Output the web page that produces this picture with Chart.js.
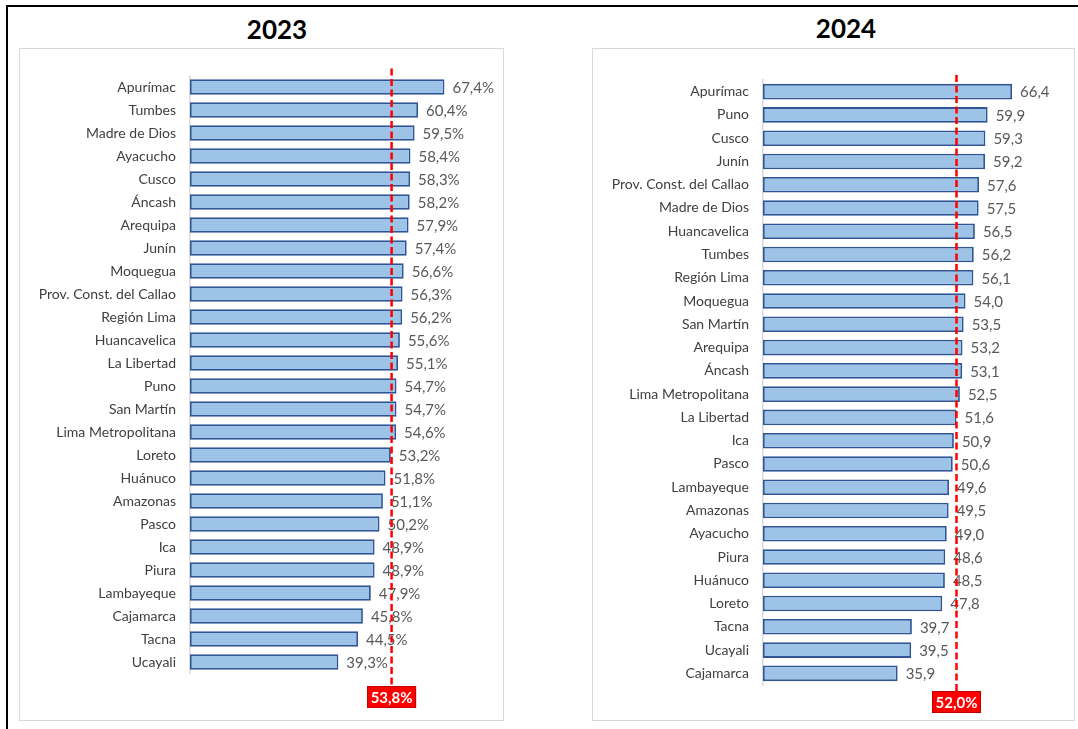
<!DOCTYPE html>
<html><head><meta charset="utf-8">
<script src="https://cdn.jsdelivr.net/npm/chart.js@4"></script>
<style>
html,body{margin:0;padding:0;background:#fff;width:1078px;height:729px;overflow:hidden;font-family:Lato,sans-serif}
#frameTop{position:absolute;left:6px;top:5px;width:1072px;height:2px;background:#000}
#frameLeft{position:absolute;left:6px;top:5px;width:2px;height:724px;background:#000}
.panel{position:absolute;border:1.5px solid #D9D9D9;box-sizing:border-box}
.title{position:absolute;font-weight:bold;font-size:26px;color:#000;transform:translate(-50%,-50%);font-family:Lato,sans-serif}
canvas{position:absolute}
</style></head>
<body>
<div id="frameTop"></div><div id="frameLeft"></div>
<div class="panel" style="left:19px;top:48px;width:485px;height:673px"></div>
<div class="panel" style="left:592px;top:48px;width:483px;height:673px"></div>
<div class="title" style="left:277px;top:29px">2023</div>
<div class="title" style="left:846px;top:28px">2024</div>
<canvas id="c1" width="485" height="673" style="left:19px;top:48px"></canvas>
<canvas id="c2" width="483" height="673" style="left:592px;top:48px"></canvas>
<script>
const regions2023 = ["Apurímac","Tumbes","Madre de Dios","Ayacucho","Cusco","Áncash","Arequipa","Junín","Moquegua","Prov. Const. del Callao","Región Lima","Huancavelica","La Libertad","Puno","San Martín","Lima Metropolitana","Loreto","Huánuco","Amazonas","Pasco","Ica","Piura","Lambayeque","Cajamarca","Tacna","Ucayali"];
const values2023 = [67.4,60.4,59.5,58.4,58.3,58.2,57.9,57.4,56.6,56.3,56.2,55.6,55.1,54.7,54.7,54.6,53.2,51.8,51.1,50.2,48.9,48.9,47.9,45.8,44.5,39.3];
const average2023 = 53.8;

const regions2024 = ["Apurímac","Puno","Cusco","Junín","Prov. Const. del Callao","Madre de Dios","Huancavelica","Tumbes","Región Lima","Moquegua","San Martín","Arequipa","Áncash","Lima Metropolitana","La Libertad","Ica","Pasco","Lambayeque","Amazonas","Ayacucho","Piura","Huánuco","Loreto","Tacna","Ucayali","Cajamarca"];
const values2024 = [66.4,59.9,59.3,59.2,57.6,57.5,56.5,56.2,56.1,54.0,53.5,53.2,53.1,52.5,51.6,50.9,50.6,49.6,49.5,49.0,48.6,48.5,47.8,39.7,39.5,35.9];
const average2024 = 52.0;

const fmt = (v, pct) => v.toFixed(1).replace('.', ',') + (pct ? '%' : '');

const annotPlugin = {
  id: 'annot',
  afterDatasetsDraw(chart, args, o) {
    const ctx = chart.ctx;
    const meta = chart.getDatasetMeta(0);
    const data = chart.data.datasets[0].data;
    ctx.save();
    ctx.font = '15px Lato, sans-serif';
    ctx.fillStyle = '#595959';
    ctx.textAlign = 'left';
    ctx.textBaseline = 'middle';
    meta.data.forEach((bar, i) => {
      ctx.fillText(fmt(data[i], o.pct), bar.x + 8, bar.y + 1);
    });
    const x = chart.scales.x.getPixelForValue(o.ref) + o.shift;
    const ca = chart.chartArea;
    const boxTop = ca.bottom + o.boxGap;
    ctx.strokeStyle = '#FF0000';
    ctx.lineWidth = 2.5;
    ctx.setLineDash([7, 3.5]);
    ctx.beginPath();
    ctx.moveTo(x, ca.top - o.lineAbove);
    ctx.lineTo(x, boxTop);
    ctx.stroke();
    ctx.setLineDash([]);
    const bw = 49, bh = 22;
    ctx.fillStyle = '#FF0000';
    ctx.fillRect(x - bw / 2, boxTop, bw, bh);
    ctx.strokeStyle = '#C00000';
    ctx.lineWidth = 1;
    ctx.strokeRect(x - bw / 2 + 0.5, boxTop + 0.5, bw - 1, bh - 1);
    ctx.fillStyle = '#FFFFFF';
    ctx.font = 'bold 15px Lato, sans-serif';
    ctx.textAlign = 'center';
    ctx.fillText(fmt(o.ref, true), x, boxTop + bh / 2 + 1);
    ctx.restore();
  }
};

function makeChart(id, labels, values, ref, pct, pad, boxGap, lineAbove) {
  return new Chart(document.getElementById(id), {
    type: 'bar',
    data: {
      labels: labels,
      datasets: [{
        data: values,
        backgroundColor: '#9DC3E6',
        borderColor: '#2F5597',
        borderWidth: 1.8,
        borderSkipped: false,
        barPercentage: 0.67,
        categoryPercentage: 1
      }]
    },
    options: {
      indexAxis: 'y',
      responsive: false,
      animation: false,
      layout: { padding: pad },
      plugins: {
        legend: { display: false },
        tooltip: { enabled: false },
        annot: { ref: ref, pct: pct, boxGap: boxGap, lineAbove: lineAbove, shift: -1.5 }
      },
      scales: {
        x: { display: false, min: 0, max: 80 },
        y: {
          afterFit: (s) => { s.width = 171; },
          grid: { display: false, drawTicks: false },
          border: { display: true, color: '#D9D9D9', width: 1.5 },
          ticks: { padding: 14, color: '#404040', font: { family: 'Lato, sans-serif', size: 14 } }
        }
      }
    },
    plugins: [annotPlugin]
  });
}

makeChart('c1', regions2023, values2023, average2023, true, { top: 27.5, bottom: 47.5, left: 0, right: 12 }, 12.5, 7);
makeChart('c2', regions2024, values2024, average2024, false, { top: 32, bottom: 36, left: 0, right: 12 }, 6, 5);
</script>
</body></html>
